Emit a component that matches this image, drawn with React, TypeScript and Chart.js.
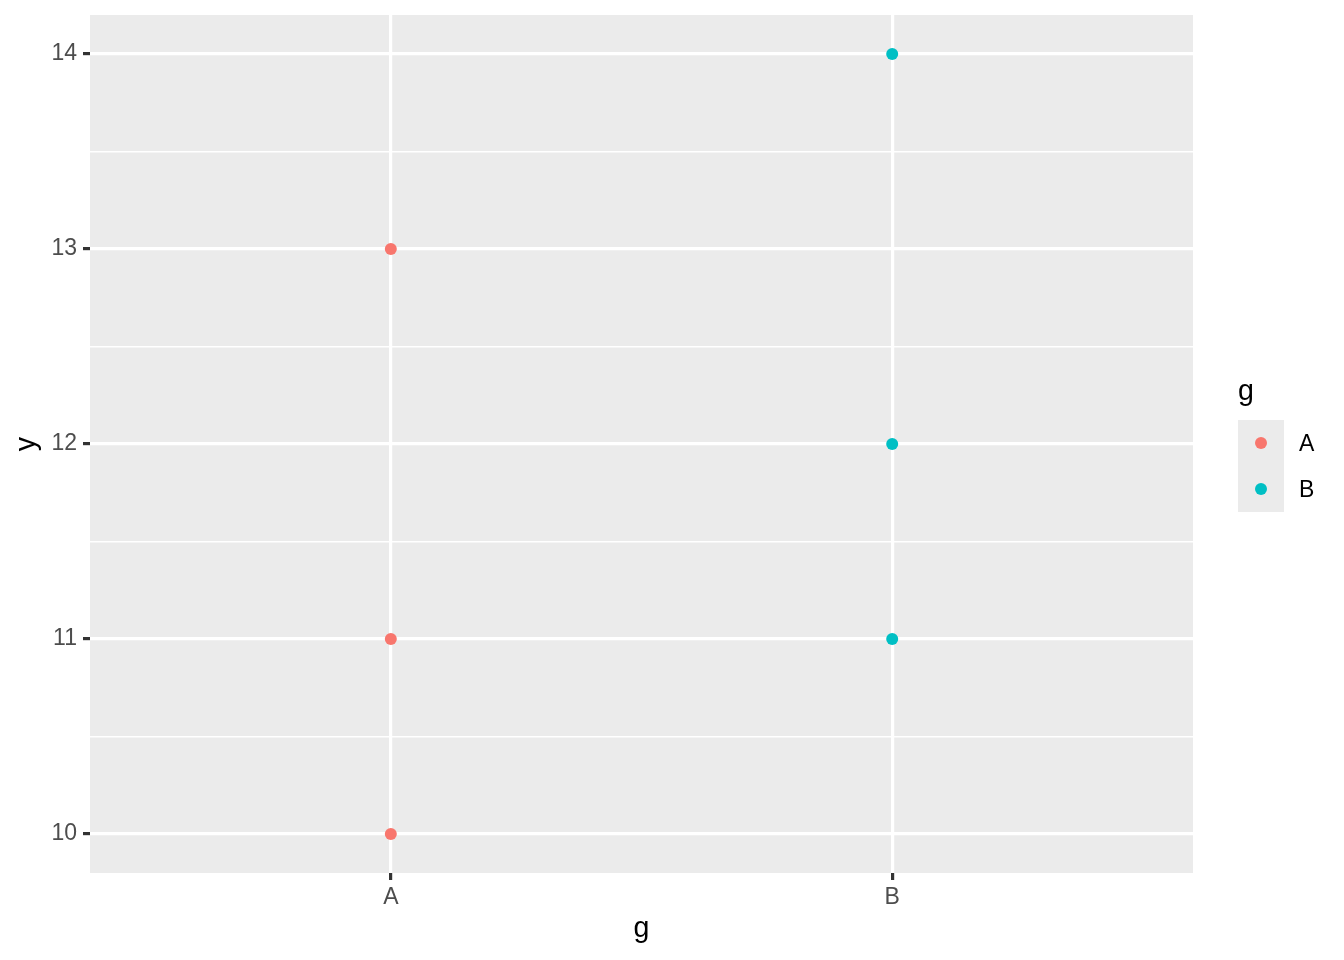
import React, { useEffect, useRef } from 'react';
import { Chart, registerables } from 'chart.js';

Chart.register(...registerables);

const categories = ['A', 'B'];
const valuesA = [10, 11, 13];
const valuesB = [11, 12, 14];
const yMajorTicks = [10, 11, 12, 13, 14];
const yMinorTicks = [10.5, 11.5, 12.5, 13.5];
const seriesNames = ['A', 'B'];
const seriesColors = ['#F8766D', '#00BFC4'];
const xTitle = 'g';
const yTitle = 'y';
const legendTitle = 'g';

const FONT = '"Liberation Sans", Arial, Helvetica, sans-serif';

const decorPlugin = {
  id: 'ggDecor',
  beforeDraw(chart: any) {
    const { ctx, chartArea } = chart;
    ctx.save();
    ctx.fillStyle = '#EBEBEB';
    ctx.fillRect(chartArea.left, chartArea.top, chartArea.right - chartArea.left, chartArea.bottom - chartArea.top);
    ctx.restore();
  },
  afterDraw(chart: any) {
    const { ctx, chartArea } = chart;
    ctx.save();
    ctx.fillStyle = '#000000';
    ctx.font = `28.6px ${FONT}`;
    ctx.textBaseline = 'alphabetic';
    // x title
    ctx.textAlign = 'center';
    ctx.fillText(xTitle, (chartArea.left + chartArea.right) / 2, 937);
    // y title
    ctx.save();
    ctx.translate(35, (chartArea.top + chartArea.bottom) / 2);
    ctx.rotate(-Math.PI / 2);
    ctx.textAlign = 'center';
    ctx.fillText(yTitle, 0, 0);
    ctx.restore();
    // legend
    const lx = 1238;
    ctx.textAlign = 'left';
    ctx.fillText(legendTitle, lx, 400);
    const keyTop = 420;
    const keySize = 46;
    ctx.fillStyle = '#EBEBEB';
    ctx.fillRect(lx, keyTop, keySize, keySize * seriesNames.length);
    ctx.font = `23px ${FONT}`;
    seriesNames.forEach((name, i) => {
      const cy = keyTop + keySize * i + keySize / 2;
      ctx.fillStyle = seriesColors[i];
      ctx.beginPath();
      ctx.arc(lx + keySize / 2, cy, 6, 0, Math.PI * 2);
      ctx.fill();
      ctx.fillStyle = '#000000';
      ctx.fillText(name, 1299, cy + 8.2);
    });
    ctx.restore();
  },
};

export default function App() {
  const ref = useRef<HTMLCanvasElement | null>(null);

  useEffect(() => {
    if (!ref.current) return;
    const allSeries = [valuesA, valuesB];
    const chart = new Chart(ref.current, {
      type: 'scatter',
      data: {
        datasets: allSeries.map((vals, i) => ({
          label: seriesNames[i],
          data: vals.map((v) => ({ x: categories.indexOf(seriesNames[i]) + 1, y: v })),
          backgroundColor: seriesColors[i],
          borderWidth: 0,
          pointRadius: 6,
          pointHoverRadius: 6,
        })),
      },
      options: {
        responsive: false,
        animation: false,
        layout: { padding: { top: 15, right: 151, left: 0, bottom: 0 } },
        plugins: {
          legend: { display: false },
          tooltip: { enabled: false },
          title: { display: false },
        },
        scales: {
          x: {
            type: 'linear',
            min: 0.4,
            max: 2.6,
            afterBuildTicks: (s: any) => {
              s.ticks = categories.map((_, i) => ({ value: i + 1 }));
            },
            afterFit: (s: any) => {
              s.height = 87;
              s.paddingLeft = 0;
              s.paddingRight = 0;
            },
            ticks: {
              callback: (v: any) => categories[Number(v) - 1] ?? '',
              font: { size: 23, family: FONT },
              color: '#4D4D4D',
              padding: 4,
              autoSkip: false,
              maxRotation: 0,
            },
            grid: {
              color: '#FFFFFF',
              lineWidth: 3.2,
              drawTicks: true,
              tickLength: 7,
              tickColor: '#333333',
              tickWidth: 3.2,
            },
            border: { display: false },
          },
          y: {
            type: 'linear',
            min: 9.8,
            max: 14.2,
            afterBuildTicks: (s: any) => {
              s.ticks = [...yMajorTicks, ...yMinorTicks].sort((a, b) => a - b).map((v) => ({ value: v }));
            },
            afterFit: (s: any) => {
              s.width = 90;
              s.paddingTop = 0;
              s.paddingBottom = 0;
            },
            ticks: {
              callback: (v: any) => (yMajorTicks.includes(Number(v)) ? String(v) : ''),
              font: { size: 23, family: FONT },
              color: '#4D4D4D',
              padding: 6,
              autoSkip: false,
            },
            grid: {
              color: '#FFFFFF',
              lineWidth: (c: any) => (yMajorTicks.includes(c.tick?.value) ? 3.2 : 1.6),
              drawTicks: true,
              tickLength: 7,
              tickColor: (c: any) => (yMajorTicks.includes(c.tick?.value) ? '#333333' : 'rgba(0,0,0,0)'),
              tickWidth: 3.2,
            },
            border: { display: false },
          },
        },
      },
      plugins: [decorPlugin],
    } as any);
    return () => chart.destroy();
  }, []);

  return (
    <div style={{ position: 'fixed', left: 0, top: 0, width: 1344, height: 960, background: '#FFFFFF' }}>
      <canvas ref={ref} width={1344} height={960} style={{ display: 'block', width: 1344, height: 960 }} />
    </div>
  );
}
